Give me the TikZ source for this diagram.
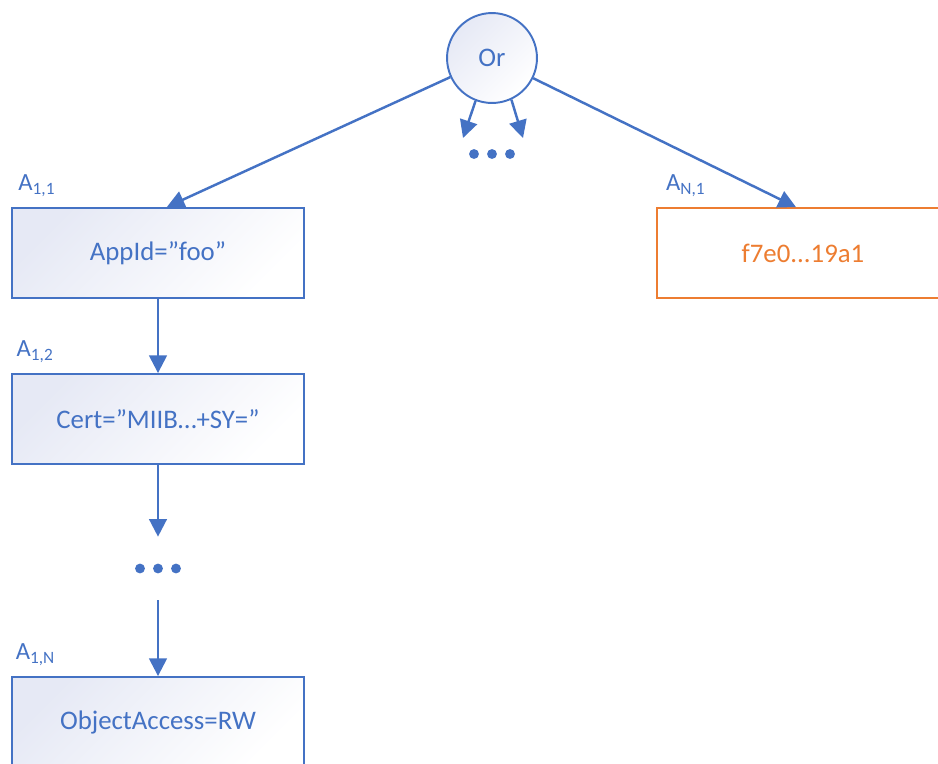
\documentclass[tikz,border=0pt]{standalone}
\usepackage{fontspec}
\setmainfont{Carlito}
\usetikzlibrary{arrows.meta,positioning}
\definecolor{accblue}{HTML}{4472C4}
\definecolor{accorange}{HTML}{ED7D31}
\definecolor{boxtint}{HTML}{E6E9F5}
\begin{document}
\begin{tikzpicture}[x=0.567pt,y=-0.567pt,
	font=\fontsize{15.2}{18}\selectfont,
	link/.style={draw=accblue, line width=1.4pt, -{Triangle[width=10pt,length=10pt]}},
	cell/.style={line width=1.1pt, minimum width=165.6pt, minimum height=51pt},
	tinted/.style={top color=boxtint, bottom color=white, shading angle=45},
	attr/.style={cell, tinted, draw=accblue, text=accblue},
	hashbox/.style={cell, draw=accorange, text=accorange, fill=white},
	lbl/.style={text=accblue, inner sep=0pt, font=\fontsize{14}{16}\selectfont},
	dot/.style={fill=accblue}]
	\clip (0,0) rectangle (938,763);
	% root
	\node[draw=accblue, line width=1.1pt, circle, minimum size=51pt, text=accblue, tinted] (orn) at (492,58) {Or};
	\node[attr] (a11) at (158,253) {AppId=”foo”};
	\node[attr] (a12) at (158,419) {Cert=”MIIB…+SY=”};
	\node[minimum width=22pt, minimum height=35.7pt, inner sep=0pt] (dotsl) at (158,568.5) {};
	\node[attr] (a1n) at (158,722) {ObjectAccess=RW};
	\node[hashbox] (an1) at (803,253) {f7e0...19a1};
	% labels
	\node[lbl, above right=5.5pt and 4pt of a11.north west] {A\textsubscript{1,1}};
	\node[lbl, above right=5.5pt and 3pt of a12.north west] {A\textsubscript{1,2}};
	\node[lbl, above right=5.5pt and 2.5pt of a1n.north west] {A\textsubscript{1,N}};
	\node[lbl, above right=5.5pt and 5.5pt of an1.north west] {A\textsubscript{N,1}};
	% dots
	\foreach \dx in {-18,0,18} {
		\fill[dot] ([xshift=\dx*0.567pt]dotsl.center) circle (2.8pt);
		\fill[dot] (492+\dx,154) circle (2.8pt);
	}
	% arrows
	\coordinate (lft) at (463,138);
	\coordinate (rgt) at (523,138);
	\draw[link] (orn) -- ([xshift=5pt]a11.north);
	\draw[link] (orn) -- ([xshift=-4pt]an1.north);
	\draw[link] (orn.249) -- (lft);
	\draw[link] (orn.295) -- (rgt);
	\draw[link] (a11) -- (a12);
	\draw[link] (a12) -- (dotsl);
	\draw[link] (dotsl) -- (a1n);
\end{tikzpicture}
\end{document}
